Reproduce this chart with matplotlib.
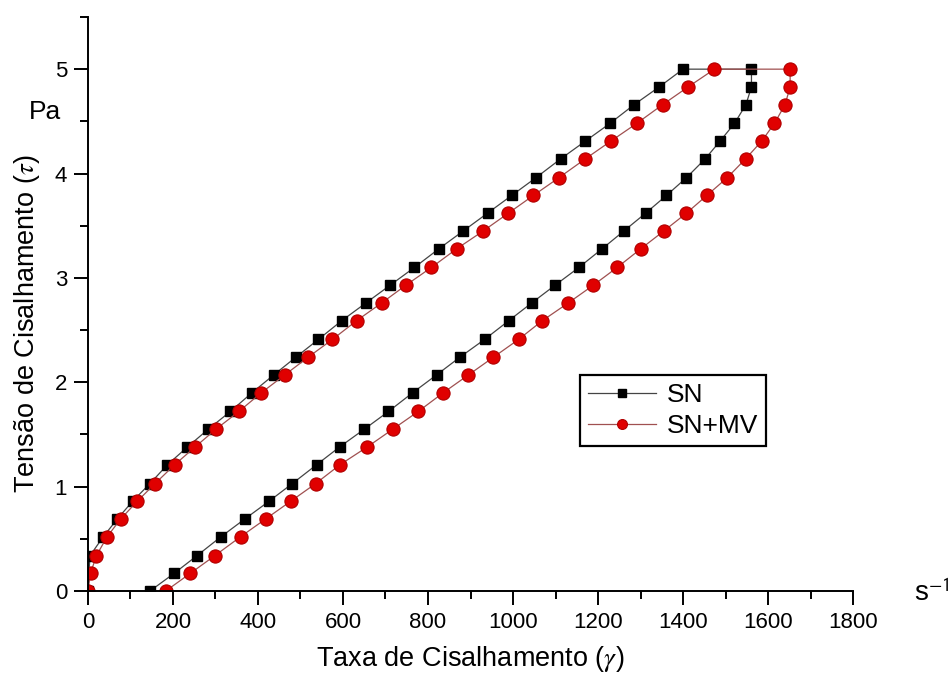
import matplotlib
matplotlib.use("Agg")
import matplotlib.pyplot as plt
from matplotlib.ticker import MultipleLocator

plt.rcParams["font.family"] = ["Liberation Sans", "DejaVu Sans"]
plt.rcParams["mathtext.fontset"] = "stix"

# shear stress levels (Pa), up sweep then down sweep
tau_up = [0.0, 0.17, 0.34, 0.52, 0.69, 0.86, 1.03, 1.21, 1.38, 1.55,
          1.72, 1.90, 2.07, 2.24, 2.41, 2.59, 2.76, 2.93, 3.10, 3.28,
          3.45, 3.62, 3.79, 3.96, 4.14, 4.31, 4.48, 4.66, 4.83, 5.0]
tau_down = tau_up[::-1]

# SN: shear rate (1/s)
sn_up = [0, 2, 5, 36, 69, 105, 146, 187, 234, 283,
         335, 386, 437, 489, 542, 597, 654, 711, 768, 826,
         883, 940, 997, 1054, 1112, 1170, 1228, 1285, 1344, 1400]
sn_down = [1561, 1561, 1548, 1521, 1487, 1452, 1408, 1361, 1312, 1261,
           1210, 1155, 1099, 1044, 990, 933, 875, 820, 764, 707,
           650, 592, 538, 481, 426, 369, 313, 257, 203, 146]

# SN+MV
mv_up = [0, 6, 20, 45, 77, 116, 158, 204, 252, 301,
         355, 408, 463, 518, 575, 632, 691, 748, 808, 868,
         930, 989, 1048, 1108, 1170, 1230, 1291, 1352, 1412, 1474]
mv_down = [1652, 1652, 1640, 1615, 1585, 1547, 1504, 1456, 1408, 1355,
           1301, 1245, 1189, 1130, 1069, 1013, 954, 895, 836, 777,
           717, 657, 593, 536, 477, 418, 359, 299, 241, 183]

fig = plt.figure(figsize=(9.51, 6.79), dpi=100)
ax = fig.add_axes([0.0925, 0.1296, 0.8045, 0.8454])

ax.plot(sn_up + sn_down, tau_up + tau_down, color="#444444", lw=0.9,
        marker="s", ms=7.5, mfc="black", mec="black", label="SN")
ax.plot(mv_up + mv_down, tau_up + tau_down, color="#a05050", lw=0.9,
        marker="o", ms=9.5, mfc="#e00000", mec="#b00000", mew=0.8,
        label="SN+MV")

ax.set_xlim(0, 1800)
ax.set_ylim(0, 5.5)
ax.xaxis.set_major_locator(MultipleLocator(200))
ax.xaxis.set_minor_locator(MultipleLocator(100))
ax.yaxis.set_major_locator(MultipleLocator(1))
ax.yaxis.set_minor_locator(MultipleLocator(0.5))

for side in ["top", "right"]:
    ax.spines[side].set_visible(False)
for side in ["left", "bottom"]:
    ax.spines[side].set_linewidth(1.4)

ax.tick_params(which="major", direction="out", length=10, width=1.4,
               labelsize=16, pad=5)
ax.tick_params(which="minor", direction="out", length=6, width=1.4)

ax.set_xlabel(r"Taxa de Cisalhamento ($\gamma$)", fontsize=19.5, labelpad=8)
ax.set_ylabel(r"Tensão de Cisalhamento ($\tau$)", fontsize=19.5)
ax.yaxis.set_label_coords(-0.06, 0.465)
fig.text(0.047, 0.835, "Pa", fontsize=19, ha="center", va="center")
fig.text(0.98, 0.126, r"s$^{\mathsf{-1}}$", fontsize=20, ha="center", va="center")

leg = ax.legend(loc="lower left", bbox_to_anchor=(0.643, 0.253),
                borderaxespad=0, fontsize=19, handlelength=2.6,
                markerscale=0.75, fancybox=False, framealpha=1,
                edgecolor="black", labelspacing=0.25, handletextpad=0.4,
                borderpad=0.3)
leg.get_frame().set_linewidth(1.6)

fig.savefig("out.png", dpi=100)
